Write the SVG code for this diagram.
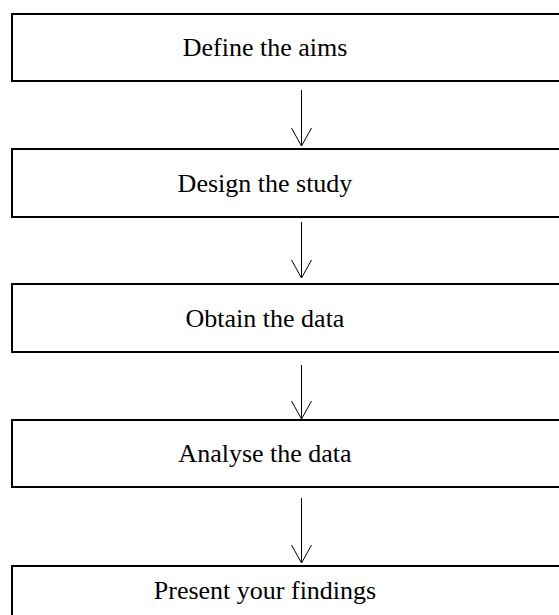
<svg xmlns="http://www.w3.org/2000/svg" width="559" height="615" viewBox="0 0 559 615">
  <defs>
    <style>
      .box { fill: #ffffff; stroke: #000000; stroke-width: 2; }
      .label { font-family: "Liberation Serif", "Times New Roman", serif; font-size: 26px; fill: #000000; text-anchor: middle; }
      .link { stroke: #000000; stroke-width: 1; fill: none; }
      .head { stroke: #000000; stroke-width: 1; fill: none; }
    </style>
  </defs>
  <rect width="559" height="615" fill="#ffffff"/>

  <!-- process steps -->
  <g id="step-aims">
    <rect class="box" x="12" y="14" width="580" height="67"/>
    <text class="label" x="265" y="56">Define the aims</text>
  </g>
  <g id="step-design">
    <rect class="box" x="12" y="149" width="580" height="68"/>
    <text class="label" x="265" y="192">Design the study</text>
  </g>
  <g id="step-obtain">
    <rect class="box" x="12" y="284" width="580" height="68"/>
    <text class="label" x="265" y="327">Obtain the data</text>
  </g>
  <g id="step-analyse">
    <rect class="box" x="12" y="420" width="580" height="67"/>
    <text class="label" x="265" y="462">Analyse the data</text>
  </g>
  <g id="step-present">
    <rect class="box" x="12" y="566" width="580" height="67"/>
    <text class="label" x="265" y="599">Present your findings</text>
  </g>

  <!-- connectors: vertical lines with open V heads -->
  <g id="connectors">
    <line class="link" x1="301.5" y1="90" x2="301.5" y2="146"/>
    <polyline class="head" points="291.5,128 301.5,146 311.5,128"/>
    <line class="link" x1="301.5" y1="222" x2="301.5" y2="278"/>
    <polyline class="head" points="291.5,260 301.5,278 311.5,260"/>
    <line class="link" x1="301.5" y1="365" x2="301.5" y2="419"/>
    <polyline class="head" points="291.5,401 301.5,419 311.5,401"/>
    <line class="link" x1="301.5" y1="498" x2="301.5" y2="563"/>
    <polyline class="head" points="291.5,545 301.5,563 311.5,545"/>
  </g>
</svg>
